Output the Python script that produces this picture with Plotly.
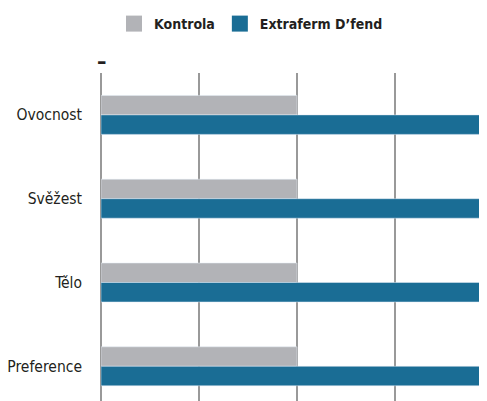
import plotly.graph_objects as go

categories = ["Ovocnost", "Svěžest", "Tělo", "Preference"]
kontrola = [2, 2, 2, 2]
extraferm = [4.2, 4.2, 4.2, 4.2]
series_names = ["Kontrola", "Extraferm D’fend"]
x_ticks = [0, 1, 2, 3, 4]

GRAY = "#b2b3b7"
TEAL = "#1a6d95"
FONT = "DejaVu Sans Condensed, Liberation Sans, sans-serif"

fig = go.Figure()
fig.add_trace(go.Bar(y=categories, x=kontrola, orientation="h", marker_color=GRAY,
                     name=series_names[0], showlegend=False))
fig.add_trace(go.Bar(y=categories, x=extraferm, orientation="h", marker_color=TEAL,
                     name=series_names[1], showlegend=False))
for nm, col in zip(series_names, [GRAY, TEAL]):
    fig.add_trace(go.Scatter(x=[None], y=[None], mode="markers", name=nm,
                             marker=dict(symbol="square", size=16, color=col)))

fig.update_layout(
    width=487, height=393,
    margin=dict(l=93, r=0, t=65, b=0, autoexpand=False),
    paper_bgcolor="white", plot_bgcolor="white",
    barmode="group", bargap=0.535, bargroupgap=0,
    font=dict(family=FONT, size=15.5, color="#231f20"),
    showlegend=True,
    legend=dict(orientation="h", xref="paper", yref="container",
                x=(251 - 101) / 394, xanchor="center", y=1 - 16 / 393, yanchor="middle",
                font=dict(family=FONT, size=14, color="#231f20", weight="bold"),
                itemsizing="trace", itemwidth=30, tracegroupgap=0),
    xaxis=dict(range=[0, 394 / 98], tickvals=x_ticks, showticklabels=False,
               showgrid=True, gridcolor="#999999", gridwidth=1.5,
               zeroline=True, zerolinecolor="#999999", zerolinewidth=1.5,
               showline=False, automargin=False),
    yaxis=dict(type="category", categoryorder="array", categoryarray=categories,
               range=[3.414, -0.5], showgrid=False, zeroline=False, showline=False,
               ticks="", ticklabelstandoff=18, automargin=False,
               tickfont=dict(family=FONT, size=15.5, color="#231f20")),
)
fig.add_annotation(text="–", xref="x", yref="paper", x=0, y=1, yanchor="bottom",
                   showarrow=False, yshift=-3,
                   font=dict(family=FONT, size=21, color="#231f20", weight="bold"))

fig.write_html("out.html")
